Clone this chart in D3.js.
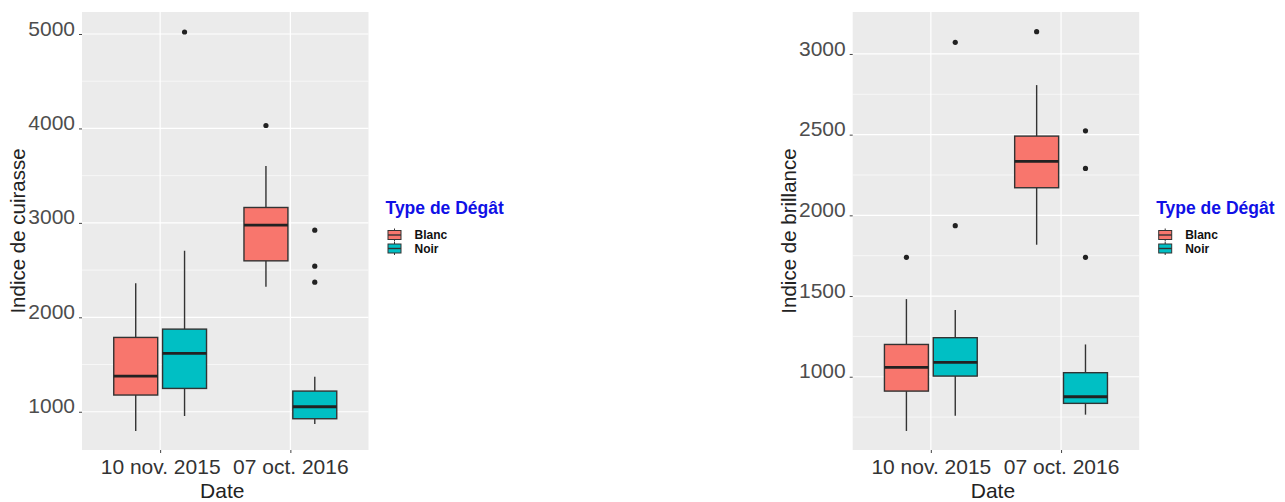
<!DOCTYPE html>
<html>
<head>
<meta charset="utf-8">
<script src="https://cdn.jsdelivr.net/npm/d3@7"></script>
<style>
  html, body { margin: 0; padding: 0; background: #ffffff; }
  svg { display: block; }
  text { font-family: "Liberation Sans", Arial, sans-serif; }
</style>
</head>
<body>
<svg id="chart" width="1285" height="502"></svg>
<script>
// Sampling dates and damage types
const dates = ["10 nov. 2015", "07 oct. 2016"];
const damageTypes = ["Blanc", "Noir"];
const typeColors = ["#F8766D", "#00BFC4"];

// One entry per box, ordered date by date, Blanc then Noir
const boxDate = ["10 nov. 2015", "10 nov. 2015", "07 oct. 2016", "07 oct. 2016"];
const boxType = ["Blanc", "Noir", "Blanc", "Noir"];

// Indice de cuirasse
const cuirasseLow = [796, 955, 2323, 870];
const cuirasseQ1 = [1177, 1247, 2598, 926];
const cuirasseMedian = [1378, 1618, 2976, 1053];
const cuirasseQ3 = [1787, 1875, 3163, 1219];
const cuirasseHigh = [2362, 2705, 3603, 1370];
const cuirasseOutliers = [[], [5021], [4031], [2923, 2542, 2372]];
const cuirasseTicks = [1000, 2000, 3000, 4000, 5000];
const cuirasseMinor = [1500, 2500, 3500, 4500];
const cuirasseDomain = [595, 5233];

// Indice de brillance
const brillanceLow = [664, 758, 1818, 765];
const brillanceQ1 = [911, 1004, 2171, 835];
const brillanceMedian = [1058, 1089, 2334, 876];
const brillanceQ3 = [1200, 1242, 2491, 1025];
const brillanceHigh = [1481, 1413, 2807, 1200];
const brillanceOutliers = [[1740], [3072, 1936], [3138], [2524, 2291, 1740]];
const brillanceTicks = [1000, 1500, 2000, 2500, 3000];
const brillanceMinor = [750, 1250, 1750, 2250, 2750];
const brillanceDomain = [546, 3260];

const svg = d3.select("#chart");

function drawPanel(opt) {
  const left = opt.left, right = opt.left + 286.5, top = 12, bottom = 450;
  const g = svg.append("g");

  const x = d3.scalePoint().domain(dates).range([left, right]).padding(0.6);
  const step = x.step();
  const dodge = d3.scaleBand().domain(damageTypes)
    .range([-0.375 * step, 0.375 * step]).paddingInner(0.1).paddingOuter(0.05);
  const y = d3.scaleLinear().domain(opt.domain).range([bottom, top]);
  const color = d3.scaleOrdinal().domain(damageTypes).range(typeColors);

  // panel background and grid
  g.append("rect").attr("x", left).attr("y", top)
    .attr("width", right - left).attr("height", bottom - top).attr("fill", "#EBEBEB");
  g.selectAll(".minor").data(opt.minor).join("line")
    .attr("x1", left).attr("x2", right)
    .attr("y1", d => y(d)).attr("y2", d => y(d))
    .attr("stroke", "#ffffff").attr("stroke-width", 0.6);
  g.selectAll(".major").data(opt.ticks).join("line")
    .attr("x1", left).attr("x2", right)
    .attr("y1", d => y(d)).attr("y2", d => y(d))
    .attr("stroke", "#ffffff").attr("stroke-width", 1.2);
  g.selectAll(".vmajor").data(dates).join("line")
    .attr("x1", d => x(d)).attr("x2", d => x(d))
    .attr("y1", top).attr("y2", bottom)
    .attr("stroke", "#ffffff").attr("stroke-width", 1.2);

  // axes
  const yAxis = g.append("g").attr("transform", `translate(${left},0)`)
    .call(d3.axisLeft(y).tickValues(opt.ticks).tickSize(3).tickPadding(4).tickFormat(d3.format("d")));
  yAxis.select(".domain").remove();
  yAxis.selectAll(".tick line").attr("stroke", "#444").attr("stroke-width", 1);
  yAxis.selectAll(".tick text").attr("fill", "#4D4D4D")
    .style("font-size", "21px").attr("dy", "0.05em");

  const xAxis = g.append("g").attr("transform", `translate(0,${bottom})`)
    .call(d3.axisBottom(x).tickSize(3).tickPadding(6));
  xAxis.select(".domain").remove();
  xAxis.selectAll(".tick line").attr("stroke", "#444").attr("stroke-width", 1);
  xAxis.selectAll(".tick text").attr("fill", "#333")
    .style("font-size", "21px").attr("dy", "0.71em");

  // boxes
  const boxes = boxDate.map((d, i) => ({
    date: d, type: boxType[i],
    low: opt.low[i], q1: opt.q1[i], med: opt.median[i], q3: opt.q3[i], high: opt.high[i],
    out: opt.outliers[i]
  }));
  const bw = dodge.bandwidth();
  const bg = g.selectAll(".box").data(boxes).join("g")
    .attr("transform", d => `translate(${x(d.date) + dodge(d.type)},0)`);
  bg.append("line").attr("x1", bw / 2).attr("x2", bw / 2)
    .attr("y1", d => y(d.high)).attr("y2", d => y(d.q3))
    .attr("stroke", "#333").attr("stroke-width", 1.4);
  bg.append("line").attr("x1", bw / 2).attr("x2", bw / 2)
    .attr("y1", d => y(d.q1)).attr("y2", d => y(d.low))
    .attr("stroke", "#333").attr("stroke-width", 1.4);
  bg.append("rect").attr("x", 0).attr("width", bw)
    .attr("y", d => y(d.q3)).attr("height", d => y(d.q1) - y(d.q3))
    .attr("fill", d => color(d.type)).attr("stroke", "#333").attr("stroke-width", 1.4);
  bg.append("line").attr("x1", 0).attr("x2", bw)
    .attr("y1", d => y(d.med)).attr("y2", d => y(d.med))
    .attr("stroke", "#222").attr("stroke-width", 2.8);
  bg.selectAll("circle").data(d => d.out).join("circle")
    .attr("cx", bw / 2).attr("cy", v => y(v)).attr("r", 2.6).attr("fill", "#222");

  // axis titles
  g.append("text").attr("x", (left + right) / 2 - 3).attr("y", 498)
    .attr("text-anchor", "middle").attr("fill", "#222").style("font-size", "21px").text("Date");
  g.append("text").attr("transform", `translate(${left - 57},${(top + bottom) / 2}) rotate(-90)`)
    .attr("text-anchor", "middle").attr("fill", "#222").style("font-size", "20.5px").text(opt.title);

  // legend
  const lg = g.append("g").attr("transform", `translate(${right + 17},0)`);
  lg.append("text").attr("x", 0).attr("y", 214).attr("fill", "#1010E6")
    .style("font-size", "17.5px").style("font-weight", "bold").text("Type de Dégât");
  const items = lg.selectAll(".item").data(damageTypes).join("g")
    .attr("transform", (d, i) => `translate(0,${235 + i * 13.5})`);
  items.append("line").attr("x1", 9).attr("x2", 9).attr("y1", -6.5).attr("y2", 6.5)
    .attr("stroke", "#333").attr("stroke-width", 1);
  items.append("rect").attr("x", 2.5).attr("y", -4.5).attr("width", 13).attr("height", 9)
    .attr("fill", d => color(d)).attr("stroke", "#333").attr("stroke-width", 1);
  items.append("line").attr("x1", 2.5).attr("x2", 15.5).attr("y1", 0).attr("y2", 0)
    .attr("stroke", "#333").attr("stroke-width", 1.4);
  items.append("text").attr("x", 29).attr("y", 4.3).attr("fill", "#111")
    .style("font-size", "12px").style("font-weight", "bold").text(d => d);
}

drawPanel({
  left: 82, title: "Indice de cuirasse", domain: cuirasseDomain,
  ticks: cuirasseTicks, minor: cuirasseMinor,
  low: cuirasseLow, q1: cuirasseQ1, median: cuirasseMedian, q3: cuirasseQ3,
  high: cuirasseHigh, outliers: cuirasseOutliers
});
drawPanel({
  left: 852.7, title: "Indice de brillance", domain: brillanceDomain,
  ticks: brillanceTicks, minor: brillanceMinor,
  low: brillanceLow, q1: brillanceQ1, median: brillanceMedian, q3: brillanceQ3,
  high: brillanceHigh, outliers: brillanceOutliers
});
</script>
</body>
</html>
